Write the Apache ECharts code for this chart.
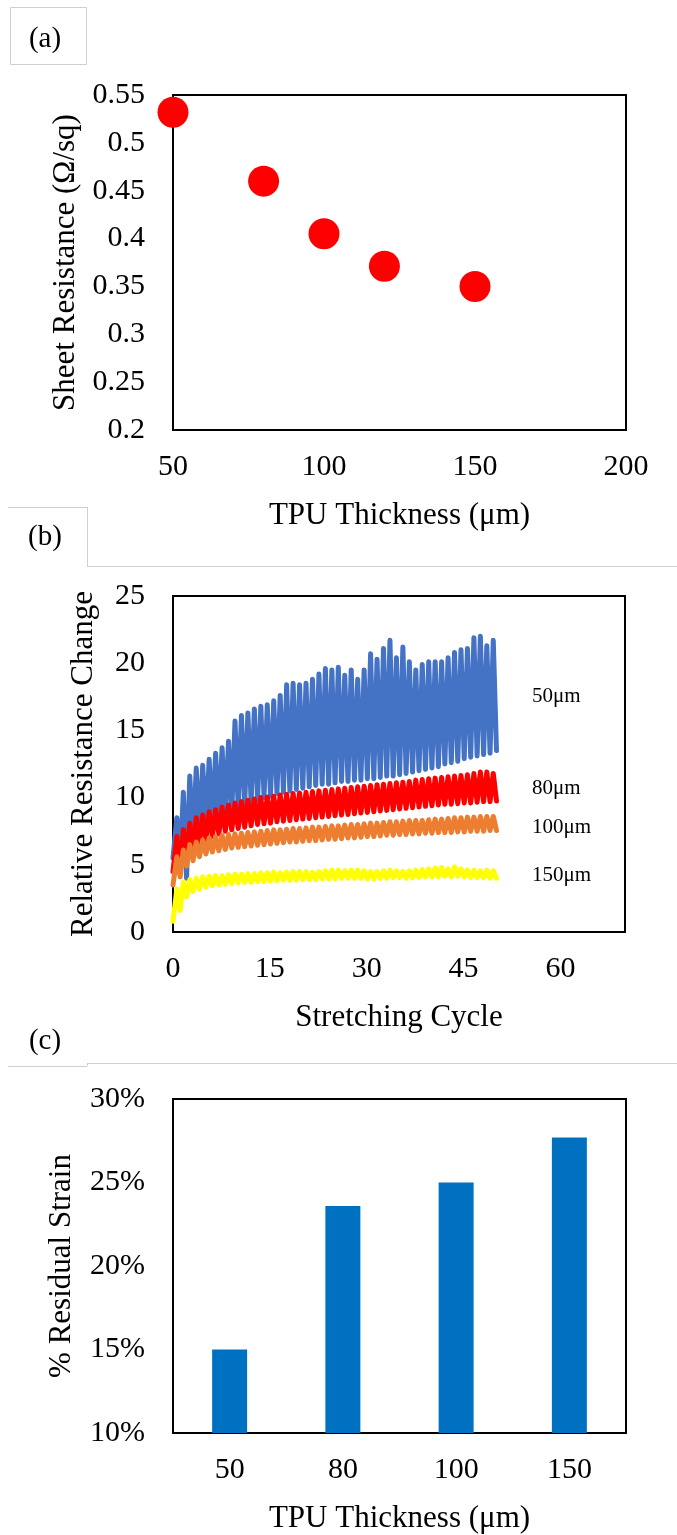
<!DOCTYPE html>
<html><head><meta charset="utf-8">
<script src="https://cdn.jsdelivr.net/npm/echarts@6/dist/echarts.min.js"></script>
<style>html,body{margin:0;padding:0;background:#fff}#c{width:677px;height:1535px}</style>
</head><body><div id="c"></div>
<script>
// ---------- Panel (a) ----------
const thicknessA = [50, 80, 100, 120, 150];
const sheetResistance = [0.532, 0.46, 0.405, 0.371, 0.35];
const xTicksA = [50, 100, 150, 200];
const yTicksA = ['0.2', '0.25', '0.3', '0.35', '0.4', '0.45', '0.5', '0.55'];

// ---------- Panel (b) ----------
const cycleTicksB = [0, 15, 30, 45, 60];
const yTicksB = [0, 5, 10, 15, 20, 25];
const seriesNamesB = ['50μm', '80μm', '100μm', '150μm'];
const seriesColorsB = ['#4472C4', '#FF0000', '#ED7D31', '#FFFF00'];
const startB = [5.5, 4.5, 3.5, 0.8];
// peak and trough of each of the 50 stretching cycles
const peaks50 = [8.5, 10.4, 11.6, 12.2, 12.4, 12.85, 13.3, 13.7, 14.2, 15.7, 16.1, 16.3, 16.6, 16.8, 16.9, 17.2, 17.6, 18.4, 18.5, 18.4, 18.5, 18.8, 19.2, 19.6, 19.5, 19.7, 19.1, 19.5, 18.8, 19.5, 20.7, 20.3, 21.1, 21.7, 20.4, 21.2, 20.1, 19.5, 19.9, 20.1, 20.1, 20.1, 20.4, 20.8, 21.0, 21.1, 21.9, 22.0, 21.3, 21.7];
const troughs50 = [5.0, 4.0, 6.5, 7.2, 7.6, 8.0, 8.3, 8.6, 8.9, 9.2, 9.4, 9.6, 9.8, 10.0, 10.1, 10.3, 10.4, 10.5, 10.6, 10.7, 10.8, 10.9, 11.0, 11.0, 11.1, 11.2, 11.2, 11.3, 11.3, 11.4, 11.4, 11.5, 11.6, 11.6, 11.7, 11.8, 11.9, 12.0, 12.1, 12.2, 12.3, 12.5, 12.6, 12.7, 12.9, 13.0, 13.1, 13.2, 13.3, 13.5];
const peaks80 = [7.1, 7.6, 8.1, 8.5, 8.7, 8.95, 9.1, 9.3, 9.45, 9.6, 9.7, 9.8, 9.9, 10.0, 10.05, 10.1, 10.2, 10.25, 10.3, 10.35, 10.4, 10.45, 10.5, 10.55, 10.6, 10.65, 10.7, 10.75, 10.8, 10.85, 10.9, 10.95, 11.0, 11.05, 11.1, 11.15, 11.2, 11.3, 11.35, 11.4, 11.45, 11.5, 11.55, 11.6, 11.65, 11.7, 11.8, 11.9, 11.9, 11.8];
const troughs80 = [4.5, 5.6, 6.2, 6.6, 6.9, 7.1, 7.3, 7.5, 7.6, 7.7, 7.8, 7.9, 8.0, 8.05, 8.1, 8.2, 8.25, 8.3, 8.35, 8.4, 8.45, 8.5, 8.55, 8.6, 8.65, 8.7, 8.75, 8.8, 8.85, 8.9, 8.95, 9.0, 9.05, 9.1, 9.15, 9.2, 9.25, 9.3, 9.35, 9.4, 9.45, 9.5, 9.5, 9.55, 9.6, 9.6, 9.65, 9.7, 9.7, 9.75];
const peaks100 = [5.6, 6.1, 6.5, 6.7, 6.85, 7.0, 7.1, 7.2, 7.25, 7.3, 7.35, 7.4, 7.45, 7.5, 7.55, 7.6, 7.6, 7.65, 7.7, 7.7, 7.75, 7.8, 7.8, 7.85, 7.9, 7.9, 7.95, 8.0, 8.0, 8.05, 8.1, 8.1, 8.15, 8.2, 8.2, 8.25, 8.3, 8.3, 8.3, 8.35, 8.4, 8.4, 8.45, 8.5, 8.5, 8.55, 8.55, 8.6, 8.6, 8.6];
const troughs100 = [4.1, 4.9, 5.3, 5.6, 5.8, 5.95, 6.05, 6.15, 6.25, 6.3, 6.35, 6.4, 6.45, 6.5, 6.55, 6.6, 6.65, 6.7, 6.7, 6.75, 6.8, 6.8, 6.85, 6.9, 6.9, 6.95, 7.0, 7.0, 7.05, 7.1, 7.1, 7.15, 7.2, 7.2, 7.25, 7.25, 7.3, 7.3, 7.35, 7.35, 7.4, 7.4, 7.4, 7.45, 7.45, 7.5, 7.5, 7.5, 7.55, 7.55];
const peaks150 = [3.2, 3.7, 3.9, 4.0, 4.1, 4.15, 4.2, 4.2, 4.25, 4.3, 4.3, 4.35, 4.35, 4.4, 4.4, 4.45, 4.4, 4.45, 4.5, 4.5, 4.5, 4.45, 4.5, 4.55, 4.6, 4.6, 4.55, 4.6, 4.6, 4.55, 4.5, 4.5, 4.55, 4.6, 4.55, 4.5, 4.55, 4.6, 4.65, 4.7, 4.75, 4.8, 4.7, 4.85, 4.7, 4.6, 4.6, 4.55, 4.6, 4.55];
const troughs150 = [1.6, 2.6, 3.0, 3.2, 3.35, 3.45, 3.5, 3.55, 3.6, 3.65, 3.7, 3.7, 3.75, 3.75, 3.8, 3.8, 3.85, 3.85, 3.85, 3.9, 3.9, 3.9, 3.95, 3.95, 3.95, 4.0, 4.0, 4.0, 4.0, 3.95, 3.95, 4.0, 4.0, 4.05, 4.05, 4.0, 4.05, 4.05, 4.1, 4.1, 4.1, 4.15, 4.1, 4.15, 4.1, 4.05, 4.05, 4.05, 4.0, 4.0];
const peaksB = [peaks50, peaks80, peaks100, peaks150];
const troughsB = [troughs50, troughs80, troughs100, troughs150];
const labelPosB = [[55.6, 17.5], [55.6, 10.7], [55.6, 7.8], [55.6, 4.2]];

// ---------- Panel (c) ----------
const thicknessC = ['50', '80', '100', '150'];
const residualStrain = [15.0, 23.6, 25.0, 27.7];
const yTicksC = ['10%', '15%', '20%', '25%', '30%'];

const FONT = '"Liberation Serif", "Times New Roman", serif';
const TXT = '#000';

function buildCycles(start, pk, tr) {
  const out = [[0, start]];
  for (let k = 0; k < pk.length; k++) {
    out.push([k + 0.6, pk[k]]);
    out.push([k + 1.1, tr[k]]);
  }
  return out;
}

const axisLabel = { fontFamily: FONT, fontSize: 30, color: TXT, margin: 28 };
const nameStyle = { fontFamily: FONT, fontSize: 31, color: TXT };

const chart = echarts.init(document.getElementById('c'), null, { renderer: 'canvas' });

const seriesB = seriesNamesB.map((n, i) => ({
  name: n, type: 'line', xAxisIndex: 1, yAxisIndex: 1,
  data: buildCycles(startB[i], peaksB[i], troughsB[i]),
  symbol: 'none', smooth: false, z: 3 + i,
  lineStyle: { color: seriesColorsB[i], width: 5, cap: 'round', join: 'round', opacity: 1 }
}));

const option = {
  animation: false,
  backgroundColor: '#fff',
  grid: [
    { left: 173, top: 95, width: 453, height: 335, show: true, borderColor: '#000', borderWidth: 2 },
    { left: 173, top: 596, width: 452, height: 336, show: true, borderColor: '#000', borderWidth: 2 },
    { left: 173, top: 1099, width: 453, height: 336, show: true, borderColor: '#000', borderWidth: 2 }
  ],
  xAxis: [
    { gridIndex: 0, type: 'value', min: xTicksA[0], max: xTicksA[xTicksA.length - 1], interval: 50,
      axisLine: { show: false }, axisTick: { show: false }, splitLine: { show: false },
      axisLabel: Object.assign({}, axisLabel, { margin: 22 }),
      name: 'TPU Thickness (μm)', nameLocation: 'middle', nameGap: 70, nameTextStyle: nameStyle },
    { gridIndex: 1, type: 'value', min: 0, max: 70, interval: 15,
      axisLine: { show: false }, axisTick: { show: false }, splitLine: { show: false },
      axisLabel: Object.assign({}, axisLabel, { margin: 22, showMaxLabel: false,
        formatter: v => cycleTicksB.indexOf(v) >= 0 ? String(v) : '' }),
      name: 'Stretching Cycle', nameLocation: 'middle', nameGap: 70, nameTextStyle: nameStyle },
    { gridIndex: 2, type: 'category', data: thicknessC,
      axisLine: { show: false }, axisTick: { show: false }, splitLine: { show: false },
      axisLabel: Object.assign({}, axisLabel, { margin: 22 }),
      name: 'TPU Thickness (μm)', nameLocation: 'middle', nameGap: 70, nameTextStyle: nameStyle }
  ],
  yAxis: [
    { gridIndex: 0, type: 'value', min: 0.2, max: 0.55, interval: 0.05,
      axisLine: { show: false }, axisTick: { show: false }, splitLine: { show: false },
      axisLabel: Object.assign({}, axisLabel, { formatter: v => yTicksA[Math.round((v - 0.2) / 0.05)] }),
      name: 'Sheet Resistance (Ω/sq)', nameLocation: 'middle', nameGap: 92, nameTextStyle: nameStyle },
    { gridIndex: 1, type: 'value', min: yTicksB[0], max: yTicksB[yTicksB.length - 1], interval: 5,
      axisLine: { show: false }, axisTick: { show: false }, splitLine: { show: false },
      axisLabel: axisLabel,
      name: 'Relative Resistance Change', nameLocation: 'middle', nameGap: 74, nameTextStyle: nameStyle },
    { gridIndex: 2, type: 'value', min: 10, max: 30, interval: 5,
      axisLine: { show: false }, axisTick: { show: false }, splitLine: { show: false },
      axisLabel: Object.assign({}, axisLabel, { formatter: v => yTicksC[Math.round((v - 10) / 5)] }),
      name: '% Residual Strain', nameLocation: 'middle', nameGap: 96, nameTextStyle: nameStyle }
  ],
  series: [
    { type: 'scatter', xAxisIndex: 0, yAxisIndex: 0, symbolSize: 31, z: 5,
      itemStyle: { color: '#FF0000', opacity: 1 },
      data: thicknessA.map((x, i) => [x, sheetResistance[i]]) },
    ...seriesB,
    { type: 'scatter', xAxisIndex: 1, yAxisIndex: 1, symbolSize: 0, z: 10, silent: true,
      itemStyle: { opacity: 1 },
      data: seriesNamesB.map((n, i) => ({ name: n, value: labelPosB[i] })),
      label: { show: true, position: 'right', distance: 0, formatter: '{b}',
        fontFamily: FONT, fontSize: 21, color: TXT, opacity: 1 } },
    { type: 'bar', xAxisIndex: 2, yAxisIndex: 2, barWidth: 35,
      itemStyle: { color: '#0070C0' }, data: residualStrain }
  ],
  graphic: [
    { type: 'rect', shape: { x: 10.5, y: 7.5, width: 76, height: 57 }, style: { fill: 'none', stroke: '#cfcfcf', lineWidth: 1 }, silent: true },
    { type: 'text', x: 45, y: 39, style: { text: '(a)', font: '29px "Liberation Serif", serif', fill: TXT, align: 'center', verticalAlign: 'middle' } },
    { type: 'line', shape: { x1: 8, y1: 507.5, x2: 87, y2: 507.5 }, style: { stroke: '#cfcfcf', lineWidth: 1 } },
    { type: 'line', shape: { x1: 87.5, y1: 507, x2: 87.5, y2: 566 }, style: { stroke: '#cfcfcf', lineWidth: 1 } },
    { type: 'line', shape: { x1: 87, y1: 566.5, x2: 677, y2: 566.5 }, style: { stroke: '#cfcfcf', lineWidth: 1 } },
    { type: 'text', x: 45, y: 537, style: { text: '(b)', font: '29px "Liberation Serif", serif', fill: TXT, align: 'center', verticalAlign: 'middle' } },
    { type: 'line', shape: { x1: 8, y1: 1066.5, x2: 87, y2: 1066.5 }, style: { stroke: '#cfcfcf', lineWidth: 1 } },
    { type: 'line', shape: { x1: 87.5, y1: 1063, x2: 87.5, y2: 1066 }, style: { stroke: '#cfcfcf', lineWidth: 1 } },
    { type: 'line', shape: { x1: 87, y1: 1063.5, x2: 677, y2: 1063.5 }, style: { stroke: '#cfcfcf', lineWidth: 1 } },
    { type: 'text', x: 45, y: 1041, style: { text: '(c)', font: '29px "Liberation Serif", serif', fill: TXT, align: 'center', verticalAlign: 'middle' } }
  ]
};
chart.setOption(option);
</script>
</body></html>
